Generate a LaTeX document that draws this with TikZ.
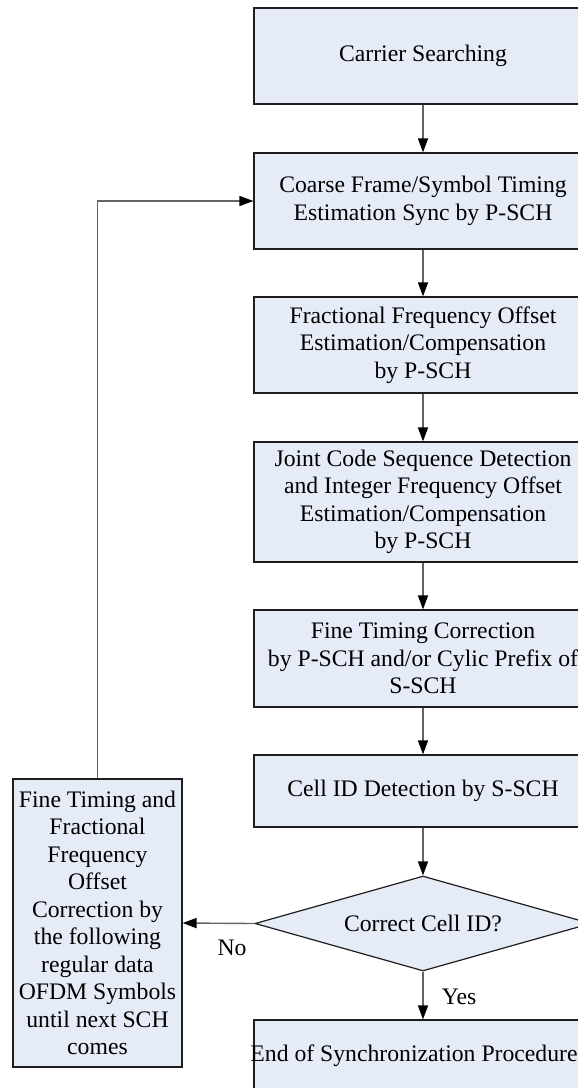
\documentclass[tikz,border=0pt]{standalone}
\usepackage{fontspec}
\setmainfont{Liberation Serif}
\usetikzlibrary{arrows.meta,shapes.geometric}
\definecolor{boxfill}{RGB}{230,236,247}
\definecolor{boxline}{RGB}{30,30,30}
\definecolor{linkgray}{RGB}{100,100,100}
\tikzset{
  procbox/.style={draw=boxline, line width=1.2pt, fill=boxfill, rectangle,
    minimum width=338pt, inner sep=0pt, align=center,
    font=\fontsize{23.7}{27.5}\selectfont},
  decbox/.style={draw=boxline, line width=1.2pt, fill=boxfill, diamond,
    aspect=3.54, minimum width=336pt, minimum height=95pt, inner sep=0pt,
    font=\fontsize{23.7}{27.5}\selectfont},
  link/.style={draw=linkgray, line width=1.4pt,
    -{Triangle[length=14pt,width=10pt,color=black]}},
  tag/.style={font=\fontsize{23.7}{27.5}\selectfont, inner sep=0pt}
}
\begin{document}
\begin{tikzpicture}[x=1pt,y=-1pt]
  \useasboundingbox (0,0) rectangle (578,1088);
  \clip (0,0) rectangle (578,1088);

  \node[procbox, minimum height=96pt] (b1) at (423,56) {Carrier Searching};
  \node[procbox, minimum height=96pt] (b2) at (423,201)
    {Coarse Frame/Symbol Timing\\Estimation Sync by P-SCH};
  \node[procbox, minimum height=96pt] (b3) at (423,345)
    {Fractional Frequency Offset\\Estimation/Compensation\\by P-SCH};
  \node[procbox, minimum height=120pt] (b4) at (423,502)
    {Joint Code Sequence Detection\\and Integer Frequency Offset\\Estimation/Compensation\\by P-SCH};
  \node[procbox, minimum height=97pt] (b5) at (423,658.5)
    {Fine Timing Correction\\by P-SCH and/or Cylic Prefix of\\S-SCH};
  \node[procbox, minimum height=72pt] (b6) at (423,791) {Cell ID Detection by S-SCH};
  \node[decbox] (d1) at (423,923.5) {Correct Cell ID?};
  \node[procbox, minimum height=72pt] (b7) at (423,1056)
    {\makebox[0pt]{\kern-18pt End of Synchronization Procedure}};
  \node[procbox, minimum width=169pt, minimum height=288pt] (fb) at (97.5,923)
    {Fine Timing and\\Fractional\\Frequency\\Offset\\Correction by\\the following\\regular data\\OFDM Symbols\\until next SCH\\comes};

  \draw[link] (b1) -- (b2);
  \draw[link] (b2) -- (b3);
  \draw[link] (b3) -- (b4);
  \draw[link] (b4) -- (b5);
  \draw[link] (b5) -- (b6);
  \draw[link] (b6) -- (d1);
  \draw[link] (d1) -- (b7);
  \draw[link] (d1.west) -- (fb.east);
  \draw[link] (fb.north) |- (b2.west);

  \node[tag] (no) at (232,948) {No};
  \node[tag] (yes) at (459,997) {Yes};
\end{tikzpicture}
\end{document}
